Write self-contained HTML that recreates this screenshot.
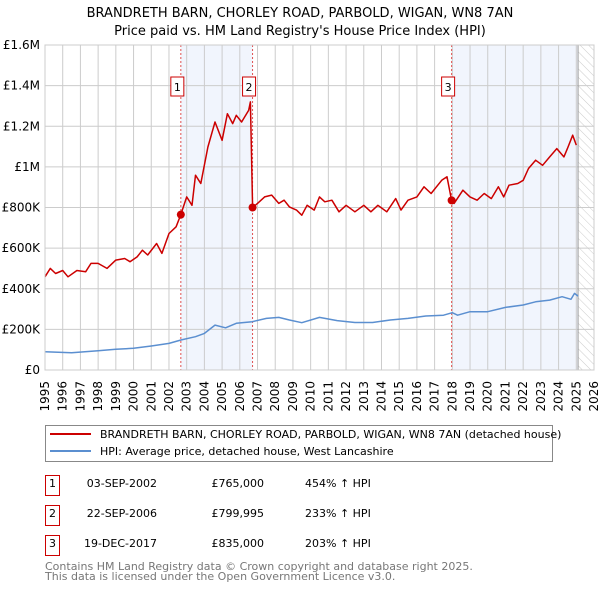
<!DOCTYPE html>
<html><head><meta charset="utf-8">
<style>
body{margin:0;background:#fff;width:600px;height:590px;overflow:hidden;font-family:"Liberation Sans","DejaVu Sans",sans-serif;}
svg text{font-family:"DejaVu Sans","Liberation Sans",sans-serif;}
</style></head>
<body>
<svg id="chart" width="600" height="590" xmlns="http://www.w3.org/2000/svg">
<defs>
<pattern id="hatch" width="6" height="6" patternUnits="userSpaceOnUse" patternTransform="rotate(-45)">
<line x1="0" y1="0" x2="0" y2="6" stroke="#ccc" stroke-width="1"/>
</pattern>
</defs>
<text x="300" y="17" text-anchor="middle" font-size="13" fill="#000">BRANDRETH BARN, CHORLEY ROAD, PARBOLD, WIGAN, WN8 7AN</text>
<text x="300" y="35" text-anchor="middle" font-size="13" fill="#000">Price paid vs. HM Land Registry's House Price Index (HPI)</text>
<g id="plot"></g>
<g>
<rect x="45.5" y="425.5" width="507" height="36" fill="#fff" stroke="#888" stroke-width="1"/>
<line x1="50" y1="434" x2="91" y2="434" stroke="#cc0000" stroke-width="2"/>
<text x="100" y="438" font-size="11">BRANDRETH BARN, CHORLEY ROAD, PARBOLD, WIGAN, WN8 7AN (detached house)</text>
<line x1="50" y1="451" x2="91" y2="451" stroke="#5b8fd0" stroke-width="2"/>
<text x="100" y="455" font-size="11">HPI: Average price, detached house, West Lancashire</text>
</g>
<g font-size="11">
<rect x="45.5" y="475.5" width="14" height="20" fill="#fff" stroke="#cc0000"/><text x="52.5" y="487" text-anchor="middle">1</text>
<text x="157" y="487" text-anchor="end">03-SEP-2002</text><text x="264" y="487" text-anchor="end">£765,000</text><text x="305" y="487">454% ↑ HPI</text>
<rect x="45.5" y="505.5" width="14" height="20" fill="#fff" stroke="#cc0000"/><text x="52.5" y="517" text-anchor="middle">2</text>
<text x="157" y="517" text-anchor="end">22-SEP-2006</text><text x="264" y="517" text-anchor="end">£799,995</text><text x="305" y="517">233% ↑ HPI</text>
<rect x="45.5" y="535.5" width="14" height="20" fill="#fff" stroke="#cc0000"/><text x="52.5" y="547" text-anchor="middle">3</text>
<text x="157" y="547" text-anchor="end">19-DEC-2017</text><text x="264" y="547" text-anchor="end">£835,000</text><text x="305" y="547">203% ↑ HPI</text>
</g>
<text x="45" y="570" font-size="11" fill="#777">Contains HM Land Registry data © Crown copyright and database right 2025.</text>
<text x="45" y="580" font-size="11" fill="#777">This data is licensed under the Open Government Licence v3.0.</text>
</svg>
<script>
const yTicks=[0,200000,400000,600000,800000,1000000,1200000,1400000,1600000];
const yTickLabels=["£0","£200K","£400K","£600K","£800K","£1M","£1.2M","£1.4M","£1.6M"];
const years=[1995,1996,1997,1998,1999,2000,2001,2002,2003,2004,2005,2006,2007,2008,2009,2010,2011,2012,2013,2014,2015,2016,2017,2018,2019,2020,2021,2022,2023,2024,2025,2026];
const redT=[1995.0,1995.3,1995.6,1996.0,1996.3,1996.8,1997.3,1997.6,1998.0,1998.5,1999.0,1999.5,1999.8,2000.2,2000.5,2000.8,2001.3,2001.6,2002.0,2002.4,2002.67,2003.0,2003.3,2003.5,2003.8,2004.2,2004.6,2005.0,2005.3,2005.6,2005.8,2006.1,2006.5,2006.6,2006.72,2007.0,2007.4,2007.8,2008.2,2008.5,2008.8,2009.2,2009.5,2009.8,2010.2,2010.5,2010.8,2011.2,2011.6,2012.0,2012.5,2013.0,2013.4,2013.8,2014.3,2014.8,2015.1,2015.5,2016.0,2016.4,2016.8,2017.4,2017.7,2017.96,2018.1,2018.6,2019.0,2019.4,2019.8,2020.2,2020.6,2020.9,2021.2,2021.7,2022.0,2022.3,2022.7,2023.1,2023.5,2023.9,2024.3,2024.5,2024.8,2025.0];
const redV=[459,500,475,490,459,490,484,525,525,500,541,549,533,557,590,566,623,574,672,705,765,852,811,959,918,1098,1221,1131,1262,1213,1254,1221,1279,1320,800,820,852,861,820,836,803,787,762,811,787,852,828,836,779,811,779,811,779,811,779,844,787,836,852,902,869,934,951,835,820,885,852,836,869,844,902,852,910,918,934,992,1033,1008,1049,1090,1049,1090,1156,1107];
const blueT=[1995,1996.5,1998,1999,2000,2001,2002,2002.7,2003.5,2004.0,2004.6,2005.2,2005.8,2006.7,2007.5,2008.2,2008.8,2009.5,2010.5,2011.5,2012.5,2013.5,2014.5,2015.5,2016.5,2017.5,2018.0,2018.3,2019,2020,2021,2022,2022.7,2023.5,2024.2,2024.7,2024.9,2025.1];
const blueV=[90,85,95,102,107,118,131,148,164,180,221,208,230,238,254,259,246,233,259,243,234,234,246,254,266,270,282,270,287,287,308,320,336,344,361,348,377,364];
const saleT=[2002.67,2006.72,2017.96];
const saleV=[765,800,835];
const saleLabels=["1","2","3"];
const dataEnd=2025.1;

const L=45,R=594,T=45,B=370,X0=1995,X1=2026,YMAX=1600000;
const xs=t=>L+(t-X0)/(X1-X0)*(R-L);
const ys=v=>B-v/YMAX*(B-T);
const NS="http://www.w3.org/2000/svg";
const g=document.getElementById('plot');
function el(tag,attrs,parent){const e=document.createElementNS(NS,tag);for(const k in attrs)e.setAttribute(k,attrs[k]);(parent||g).appendChild(e);return e;}

let s1=el('rect',{x:xs(saleT[0]),y:T,width:xs(saleT[1])-xs(saleT[0]),height:B-T,fill:'#eef3fc',opacity:0.8});


let s2=el('rect',{x:xs(saleT[2]),y:T,width:xs(dataEnd)-xs(saleT[2]),height:B-T,fill:'#eef3fc',opacity:0.8});


let h=el('rect',{x:xs(dataEnd),y:T,width:R-xs(dataEnd),height:B-T,fill:'url(#hatch)'});



yTicks.forEach((v,i)=>{
  let l=el('line',{x1:L,x2:R,y1:ys(v),y2:ys(v),stroke:'#ccc','stroke-width':1});
  
  
  let t=el('text',{x:L-5,y:ys(v)+4,'text-anchor':'end','font-size':12,fill:'#000'});
  t.textContent=yTickLabels[i];
  
  
});
years.forEach(yr=>{
  let l=el('line',{x1:xs(yr),x2:xs(yr),y1:T,y2:B,stroke:'#ccc','stroke-width':1});
  
  
  let t=el('text',{x:0,y:0,'text-anchor':'end','font-size':12,fill:'#000',transform:`translate(${xs(yr)+4},381) rotate(-90)`});
  t.textContent=yr;
  
  
});
let ve=el('line',{x1:xs(dataEnd),x2:xs(dataEnd),y1:T,y2:B,stroke:'#999','stroke-width':1});



saleT.forEach((t,i)=>{
  let l=el('line',{x1:xs(t),x2:xs(t),y1:T,y2:B,stroke:'#e05050','stroke-width':1,'stroke-dasharray':'2,2'});
  
  
});

function path(T_,V_,color,name){
  let d=T_.map((t,i)=>(i?'L':'M')+xs(t).toFixed(1)+','+ys(V_[i]*1000).toFixed(1)).join('');
  let p=el('path',{d:d,fill:'none',stroke:color,'stroke-width':1.5,'stroke-linejoin':'round'});
  
  
}
path(blueT,blueV,'#5b8fd0','hpi-line');
path(redT,redV,'#cc0000','price-line');

saleT.forEach((t,i)=>{
  let c=el('circle',{cx:xs(t),cy:ys(saleV[i]*1000),r:4,fill:'#cc0000'});
  
  
  let bx=xs(t)-10;
  let r=el('rect',{x:bx,y:77,width:13,height:19,fill:'#fff',stroke:'#cc0000'});
  
  
  let tx=el('text',{x:bx+6.5,y:91,'text-anchor':'middle','font-size':11});
  tx.textContent=saleLabels[i];
  
  
});
let fr=el('rect',{x:L,y:T,width:R-L,height:B-T,fill:'none',stroke:'#ccc'});


</script>
</body></html>
